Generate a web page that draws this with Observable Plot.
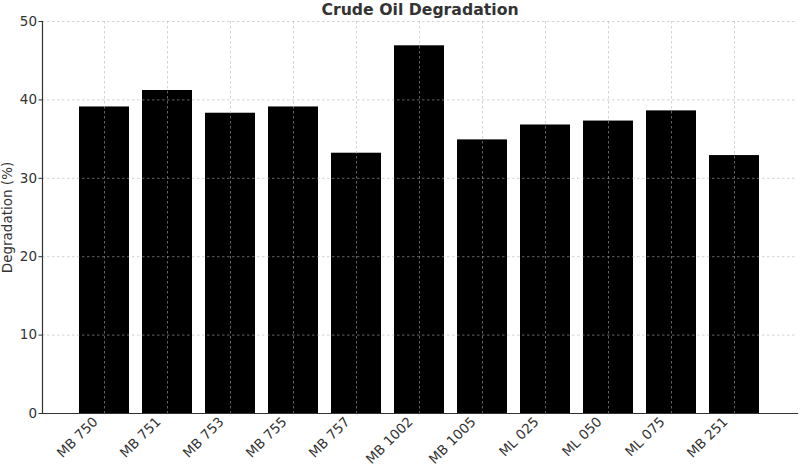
<!DOCTYPE html>
<html>
<head>
<meta charset="utf-8">
<script src="https://cdn.jsdelivr.net/npm/d3@7"></script>
<script src="https://cdn.jsdelivr.net/npm/@observablehq/plot@0.6"></script>
<style>
  html, body { margin: 0; padding: 0; background: #fff; }
  #chart svg { display: block; font-family: "DejaVu Sans", sans-serif; }
</style>
</head>
<body>
<div id="chart"></div>
<script>
const samples = ["MB 750", "MB 751", "MB 753", "MB 755", "MB 757", "MB 1002", "MB 1005", "ML 025", "ML 050", "ML 075", "MB 251"];
const degradation = [39.1, 41.2, 38.3, 39.1, 33.2, 46.9, 34.9, 36.8, 37.3, 38.6, 32.9];
const yTicks = [0, 10, 20, 30, 40, 50];
const titleText = "Crude Oil Degradation";
const yLabel = "Degradation (%)";

const data = samples.map((s, i) => ({sample: s, value: degradation[i]}));
const grid = {stroke: "#b0b0b0", strokeOpacity: 0.7, strokeWidth: 0.8, strokeDasharray: "2.5,2.5"};

const chart = Plot.plot({
  width: 800,
  height: 467,
  marginTop: 21,
  marginBottom: 54,
  marginLeft: 42,
  marginRight: 3,
  style: {fontFamily: "DejaVu Sans, sans-serif", fontSize: "13.5px", color: "#333", background: "#fff"},
  x: {domain: samples, paddingInner: 0.2, paddingOuter: 0.53},
  y: {domain: [0, 50]},
  marks: [
    Plot.barY(data, {x: "sample", y: "value", fill: "#000"}),
    Plot.gridX(samples, {...grid}),
    Plot.gridY(yTicks, {...grid}),
    Plot.frame({anchor: "left", stroke: "#333", strokeWidth: 1.2}),
    Plot.frame({anchor: "bottom", stroke: "#333", strokeWidth: 1.2}),
    Plot.axisY(yTicks, {tickSize: 3.5, tickPadding: 2, stroke: "#333", fill: "#333", fontSize: 13.5,
      label: yLabel, labelAnchor: "center", labelArrow: "none", labelOffset: 40}),
    Plot.axisX({tickSize: 0, tickPadding: 6, tickRotate: -45, dx: -9, fill: "#333", fontSize: 13.5, label: null}),
    Plot.text([titleText], {frameAnchor: "top", dy: -11.5, lineAnchor: "middle", fontWeight: "bold", fontSize: 15.7, fill: "#333"})
  ]
});
document.getElementById("chart").append(chart);
</script>
</body>
</html>
